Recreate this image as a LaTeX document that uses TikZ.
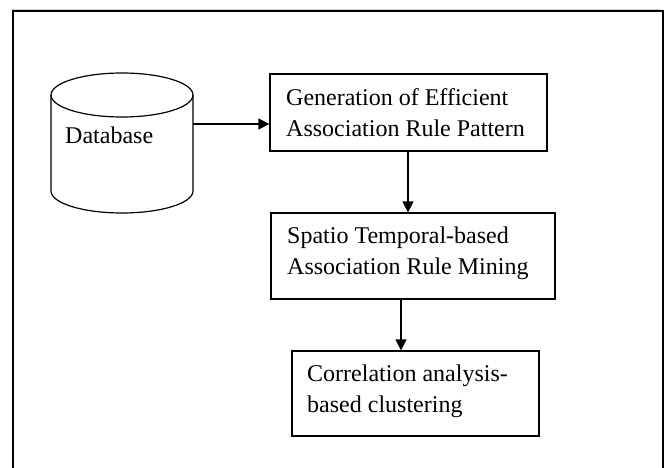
\documentclass[tikz,border=0pt]{standalone}
\usepackage{fontspec}
\setmainfont{Liberation Serif}
\usetikzlibrary{arrows.meta}
\begin{document}
\begin{tikzpicture}[x=1pt,y=-1pt,
  boxstyle/.style={draw, line width=1.2pt, inner sep=0pt},
  txt/.style={font=\fontsize{24}{31}\selectfont, align=left, anchor=west, inner sep=0pt},
  arr/.style={-{Triangle[length=11pt,width=11pt]}, line width=1.2pt}]
\useasboundingbox (0,0) rectangle (667,468);
% outer frame (open at bottom)
\draw[gray!40, line width=1pt] (12,468) -- (12,10) -- (662,10);
\draw[line width=1.2pt] (13,468) -- (13,11) -- (663,11) -- (663,468);
% database cylinder
\draw[line width=1.2pt, fill=white] (51,95) -- (51,191) arc[start angle=180, end angle=0, x radius=71, y radius=22] -- (193,95);
\draw[line width=1.2pt] (122,95) ellipse[x radius=71, y radius=22];
\node[txt] (db) at (65,135) {Database};
\coordinate (dbr) at (193,124);
% boxes
\node[boxstyle, minimum width=277pt, minimum height=77pt] (b1) at (408.5,112.5) {};
\node[txt] (t1) at (286,112.5) {Generation of Efficient\\Association Rule Pattern};
\node[boxstyle, minimum width=284pt, minimum height=86pt] (b2) at (413,256) {};
\node[txt] (t2) at (287,253) {Spatio Temporal-based\\Association Rule Mining};
\node[boxstyle, minimum width=247pt, minimum height=85pt] (b3) at (415.5,393.5) {};
\node[txt] (t3) at (307,391) {Correlation analysis-\\based clustering};
% arrows
\draw[arr] (dbr) -- (b1.west |- dbr);
\draw[arr] (b1.south -| 408,0) -- (b2.north -| 408,0);
\draw[arr] (b2.south -| 401,0) -- (b3.north -| 401,0);
\end{tikzpicture}
\end{document}
